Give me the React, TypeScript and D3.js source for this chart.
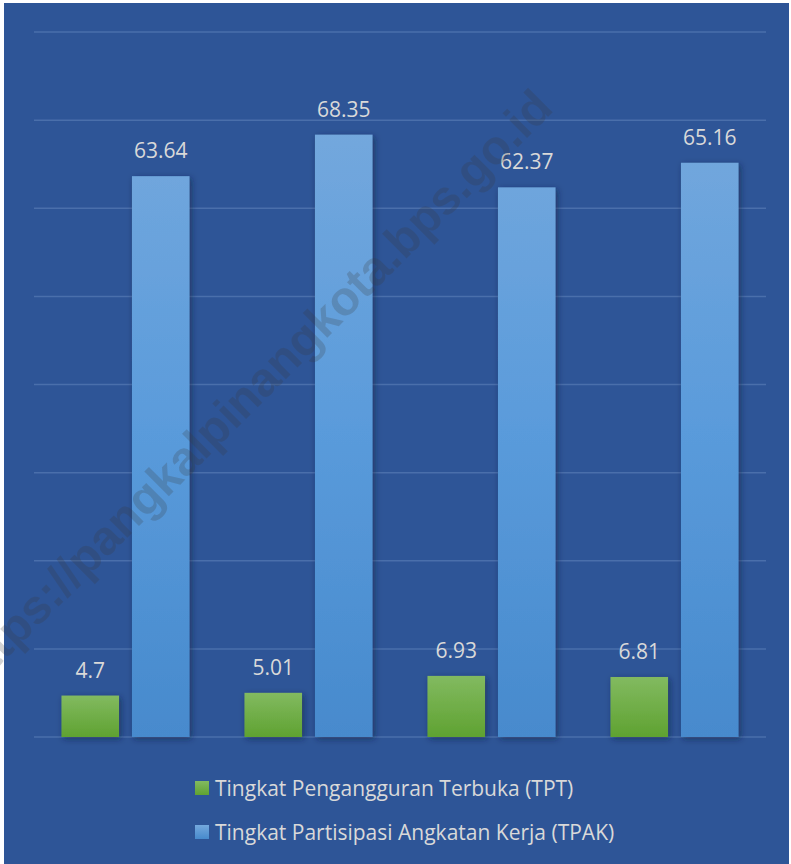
import React, { useEffect, useRef } from 'react';
import * as d3 from 'd3';

const categories = ['Periode 1', 'Periode 2', 'Periode 3', 'Periode 4'];
const seriesNames = ['Tingkat Pengangguran Terbuka (TPT)', 'Tingkat Partisipasi Angkatan Kerja (TPAK)'];
const tptValues = [4.7, 5.01, 6.93, 6.81];
const tpakValues = [63.64, 68.35, 62.37, 65.16];
const yTicks = [0, 10, 20, 30, 40, 50, 60, 70, 80];

const W = 791;
const H = 864;

const App: React.FC = () => {
  const svgRef = useRef<SVGSVGElement>(null);

  useEffect(() => {
    document.body.style.margin = '0';
    if (!svgRef.current) return;
    const svg = d3.select(svgRef.current);
    svg.selectAll('*').remove();

    const defs = svg.append('defs');
    const gradGreen = defs.append('linearGradient').attr('id', 'gGreen')
      .attr('x1', 0).attr('y1', 0).attr('x2', 0).attr('y2', 1);
    gradGreen.append('stop').attr('offset', '0%').attr('stop-color', '#82BA60');
    gradGreen.append('stop').attr('offset', '100%').attr('stop-color', '#5FA231');
    const gradBlue = defs.append('linearGradient').attr('id', 'gBlue')
      .attr('x1', 0).attr('y1', 0).attr('x2', 0).attr('y2', 1)
      .attr('gradientUnits', 'userSpaceOnUse');
    const shadow = defs.append('filter').attr('id', 'shadow')
      .attr('x', '-30%').attr('y', '-10%').attr('width', '160%').attr('height', '130%');
    shadow.append('feDropShadow').attr('dx', 2).attr('dy', 2).attr('stdDeviation', 3)
      .attr('flood-color', '#0a1a3a').attr('flood-opacity', 0.55);

    // background
    svg.append('rect').attr('width', W).attr('height', H).attr('fill', '#ffffff');
    svg.append('rect').attr('x', 4).attr('y', 3).attr('width', 785).attr('height', H - 3)
      .attr('fill', '#2E5597');

    const y = d3.scaleLinear().domain([0, 80]).range([737, 32]);
    const x0 = d3.scaleBand<string>().domain(categories).range([34, 766]);
    const x1 = d3.scaleBand<string>().domain(seriesNames).range([0, x0.bandwidth()])
      .paddingInner(0.184).paddingOuter(0.39);

    gradBlue.attr('x1', 0).attr('y1', y(70)).attr('x2', 0).attr('y2', y(0));
    gradBlue.append('stop').attr('offset', '0%').attr('stop-color', '#74A8DD');
    gradBlue.append('stop').attr('offset', '50%').attr('stop-color', '#5A9BDB');
    gradBlue.append('stop').attr('offset', '100%').attr('stop-color', '#478ACD');

    // gridlines
    svg.append('g').selectAll('line').data(yTicks).join('line')
      .attr('x1', 34).attr('x2', 766)
      .attr('y1', d => y(d)).attr('y2', d => y(d))
      .attr('stroke', '#4A6FAB').attr('stroke-width', 1.5);

    const fills = ['url(#gGreen)', 'url(#gBlue)'];
    const seriesData = [tptValues, tpakValues];

    seriesData.forEach((vals, si) => {
      const g = svg.append('g');
      g.selectAll('rect').data(vals).join('rect')
        .attr('x', (_d, i) => (x0(categories[i]) as number) + (x1(seriesNames[si]) as number))
        .attr('y', d => y(d))
        .attr('width', x1.bandwidth())
        .attr('height', d => y(0) - y(d))
        .attr('fill', fills[si])
        .attr('filter', 'url(#shadow)');
      g.selectAll('text').data(vals).join('text')
        .attr('x', (_d, i) => (x0(categories[i]) as number) + (x1(seriesNames[si]) as number) + x1.bandwidth() / 2)
        .attr('y', d => y(d) - 18)
        .attr('text-anchor', 'middle')
        .style('font-family', '"Open Sans", sans-serif')
        .style('font-size', '21px')
        .style('fill', '#D9D9D9')
        .text(d => String(d));
    });

    // watermark
    svg.append('text')
      .attr('transform', 'translate(555,110) rotate(-45)')
      .attr('text-anchor', 'end')
      .style('font-family', '"Liberation Sans", Arial, sans-serif')
      .style('font-weight', 'bold')
      .style('font-size', '48px')
      .style('fill', '#3a3a3a')
      .style('opacity', 0.22)
      .text('https://pangkalpinangkota.bps.go.id');

    // legend
    const legendFills = ['url(#gGreenL)', 'url(#gBlueL)'];
    const lg1 = defs.append('linearGradient').attr('id', 'gGreenL').attr('x1', 0).attr('y1', 0).attr('x2', 0).attr('y2', 1);
    lg1.append('stop').attr('offset', '0%').attr('stop-color', '#82BA60');
    lg1.append('stop').attr('offset', '100%').attr('stop-color', '#5FA231');
    const lg2 = defs.append('linearGradient').attr('id', 'gBlueL').attr('x1', 0).attr('y1', 0).attr('x2', 0).attr('y2', 1);
    lg2.append('stop').attr('offset', '0%').attr('stop-color', '#74A8DD');
    lg2.append('stop').attr('offset', '100%').attr('stop-color', '#478ACD');

    const legend = svg.append('g');
    seriesNames.forEach((name, i) => {
      const ly = 796 + i * 44;
      legend.append('rect').attr('x', 195).attr('y', ly - 15).attr('width', 14).attr('height', 14)
        .attr('fill', legendFills[i]);
      legend.append('text').attr('x', 215).attr('y', ly)
        .style('font-family', '"Open Sans", sans-serif')
        .style('font-size', '21px')
        .style('fill', '#D9D9D9')
        .text(name);
    });
  }, []);

  return <svg ref={svgRef} width={W} height={H} style={{ display: 'block' }} />;
};

export default App;
